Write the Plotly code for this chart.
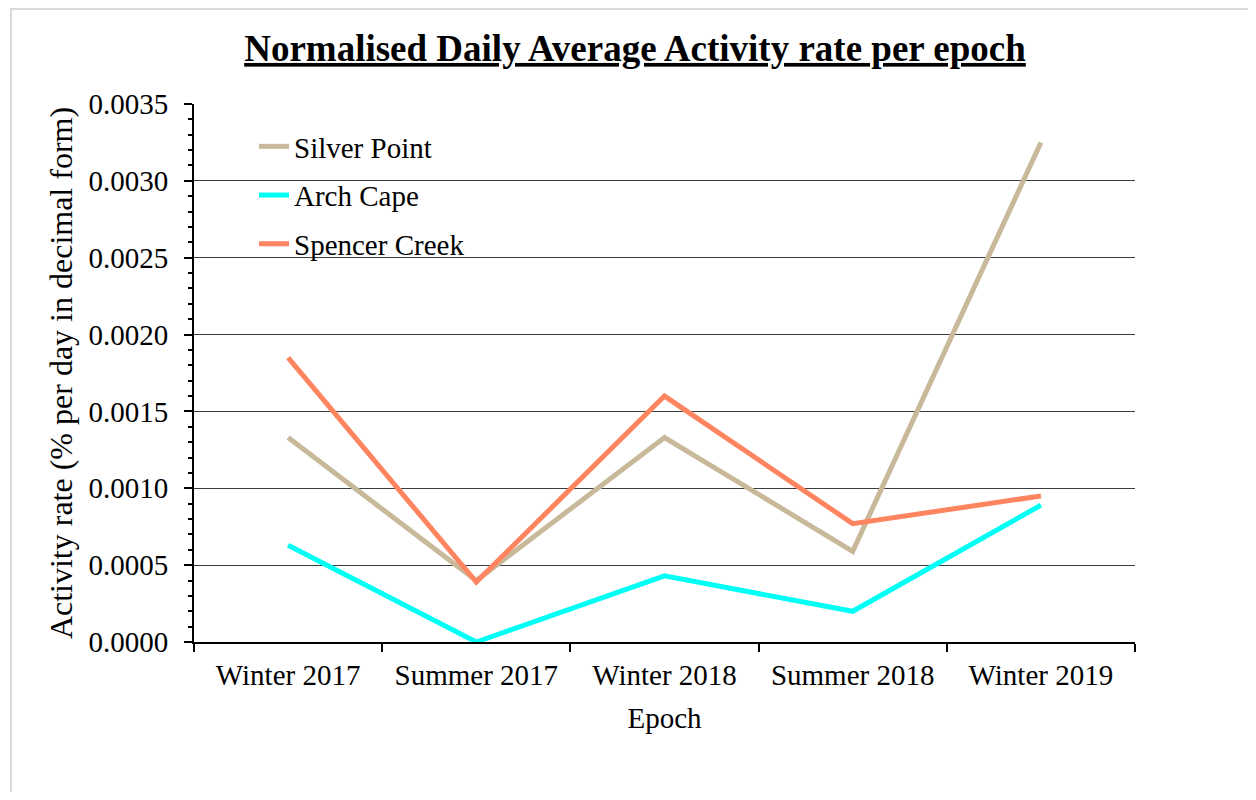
import plotly.graph_objects as go

categories = ["Winter 2017", "Summer 2017", "Winter 2018", "Summer 2018", "Winter 2019"]
silver_point = [0.00133, 0.00040, 0.00133, 0.00059, 0.00325]
arch_cape = [0.00063, 0.00000, 0.00043, 0.00020, 0.00089]
spencer_creek = [0.00185, 0.00039, 0.00160, 0.00077, 0.00095]
y_ticks = [0.0, 0.0005, 0.0010, 0.0015, 0.0020, 0.0025, 0.0030, 0.0035]
y_tick_labels = ["0.0000", "0.0005", "0.0010", "0.0015", "0.0020", "0.0025", "0.0030", "0.0035"]

FONT = "Liberation Serif"
OFF = 8  # default page body margin
W, H = 1240, 784
# plot area in page pixel coordinates
L, R, T, B = 194, 1135, 104, 642

fig = go.Figure()
series = [("Silver Point", silver_point, "#C9B99B"),
          ("Arch Cape", arch_cape, "#00FFF5"),
          ("Spencer Creek", spencer_creek, "#FF8460")]
for name, vals, col in series:
    fig.add_trace(go.Scatter(x=categories, y=vals, mode="lines", name=name,
                             line=dict(color=col, width=5), legendgroup=name))

def px_x(p):
    return (p - L) / (R - L)

def px_y(p):
    return (B - p) / (B - T)

fig.update_layout(
    width=W, height=H,
    margin=dict(l=L - OFF, r=W - (R - OFF), t=T - OFF, b=H - (B - OFF), pad=0),
    paper_bgcolor="white", plot_bgcolor="white",
    font=dict(family=FONT, size=29, color="black"),
    title=dict(text="<b><u>Normalised Daily Average Activity rate per epoch</u></b>",
               font=dict(family=FONT, size=37, color="black"),
               x=px_x(635), xref="paper", xanchor="center",
               y=1 - (48 - OFF) / H, yref="container", yanchor="middle"),
    showlegend=True,
    legend=dict(x=px_x(254), y=px_y(121), xanchor="left", yanchor="top",
                bgcolor="rgba(0,0,0,0)", font=dict(family=FONT, size=29),
                traceorder="grouped", tracegroupgap=8, itemwidth=30),
    xaxis=dict(type="category", showgrid=False, showline=True, linecolor="black", linewidth=2,
               ticks="outside", tickson="boundaries", ticklen=8, tickwidth=2, tickcolor="black",
               tickfont=dict(family=FONT, size=29), ticklabelstandoff=6,
               title=dict(text="Epoch", font=dict(family=FONT, size=29), standoff=18),
               range=[-0.5, 4.5], zeroline=False),
    yaxis=dict(range=[0, 0.0035], tickvals=y_ticks, ticktext=y_tick_labels,
               showgrid=True, gridcolor="#3c3c3c", gridwidth=1,
               showline=True, linecolor="black", linewidth=2,
               ticks="outside", ticklen=8, tickwidth=2, tickcolor="black",
               minor=dict(dtick=0.0001, tick0=0, ticks="outside", ticklen=4, tickwidth=2,
                          tickcolor="black", showgrid=False),
               tickfont=dict(family=FONT, size=29), ticklabelstandoff=10,
               title=dict(text="Activity rate (% per day in decimal form)",
                          font=dict(family=FONT, size=32), standoff=6),
               zeroline=False),
    yaxis2=dict(range=[0, 0.0035], overlaying="y", side="left", showgrid=False,
                showticklabels=False, ticks="", showline=False, zeroline=False,
                minor=dict(dtick=0.0001, tick0=0, ticks="inside", ticklen=4, tickwidth=2,
                           tickcolor="black", showgrid=False)),
)

fig.add_shape(type="rect", xref="paper", yref="paper",
              x0=px_x(11), x1=px_x(1275), y0=px_y(820), y1=px_y(9),
              line=dict(color="#d9d9d9", width=2), fillcolor="rgba(0,0,0,0)", layer="below")

fig.write_html("out.html")
